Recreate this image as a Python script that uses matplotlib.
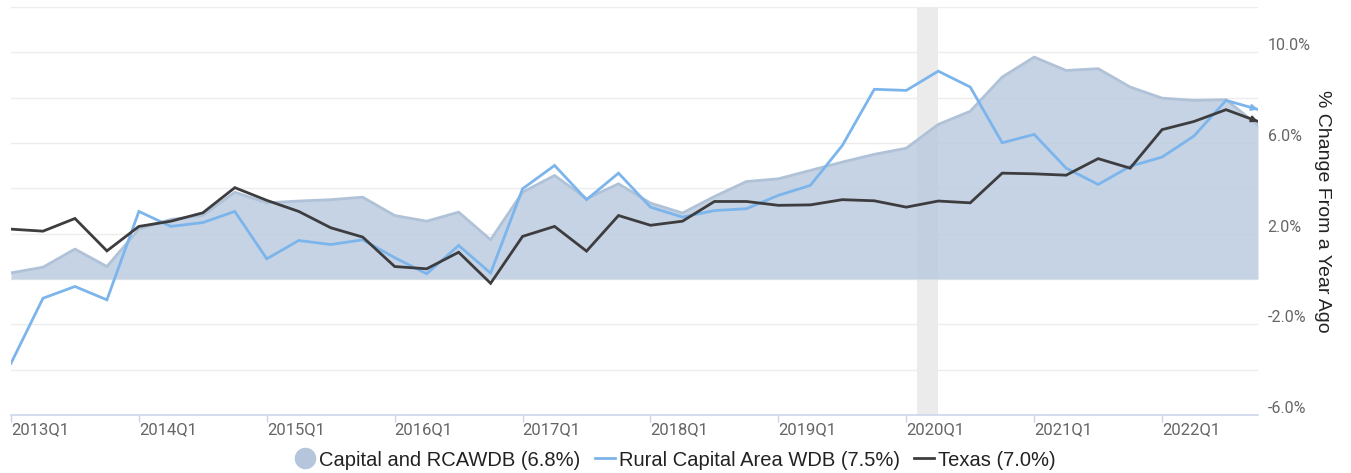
import matplotlib
matplotlib.use('Agg')
import matplotlib.pyplot as plt
from matplotlib.lines import Line2D
from matplotlib.transforms import ScaledTranslation

plt.rcParams['font.family'] = ['Roboto', 'DejaVu Sans']

# ---- data ----
years = [2013, 2014, 2015, 2016, 2017, 2018, 2019, 2020, 2021, 2022]
quarters = [f"{y}Q{q}" for y in years for q in (1, 2, 3, 4)]

capital = [0.27, 0.52, 1.32, 0.55, 2.20, 2.63, 2.80, 3.83, 3.36, 3.44,
           3.50, 3.61, 2.80, 2.55, 2.95, 1.73, 3.83, 4.57, 3.54, 4.20,
           3.35, 2.91, 3.64, 4.30, 4.42, 4.79, 5.16, 5.50, 5.77, 6.82,
           7.40, 8.91, 9.79, 9.20, 9.28, 8.47, 7.98, 7.88, 7.91, 6.78]
rural = [-3.72, -0.85, -0.33, -0.92, 2.98, 2.32, 2.49, 2.98, 0.89, 1.70,
         1.52, 1.73, 0.94, 0.23, 1.48, 0.26, 3.98, 5.01, 3.50, 4.67,
         3.17, 2.73, 3.02, 3.10, 3.69, 4.13, 5.89, 8.37, 8.32, 9.17,
         8.47, 6.01, 6.38, 4.89, 4.17, 4.97, 5.38, 6.31, 7.88, 7.48]
texas = [2.20, 2.11, 2.67, 1.24, 2.32, 2.55, 2.92, 4.03, 3.47, 2.98,
         2.26, 1.85, 0.55, 0.45, 1.18, -0.19, 1.88, 2.32, 1.23, 2.80,
         2.37, 2.55, 3.42, 3.42, 3.25, 3.27, 3.50, 3.45, 3.17, 3.44,
         3.36, 4.67, 4.64, 4.58, 5.31, 4.89, 6.59, 6.95, 7.47, 6.95]

series_names = ["Capital and RCAWDB (6.8%)", "Rural Capital Area WDB (7.5%)", "Texas (7.0%)"]
recession = (2020 + 1 / 12, 2020 + 3 / 12)
ytick_major = [-6, -2, 2, 6, 10]
ytick_grid = [-4, -2, 0, 2, 4, 6, 8, 10, 12]

# x positions from quarter labels
x = [int(q[:4]) + (int(q[-1]) - 1) / 4 for q in quarters]

fill_col = '#b8c9de'
edge_col = '#b0c2d8'
rural_col = '#7cb5ec'
texas_col = '#3d3d3f'

W, H = 1351, 473
fig = plt.figure(figsize=(W / 100, H / 100), dpi=100)
ax = fig.add_axes([11 / W, 58 / H, 1247 / W, 408 / H])

ax.set_xlim(x[0], x[-1])
ax.set_ylim(-6, 12)

# gridlines
for g in ytick_grid:
    ax.axhline(g, color='#ececec', lw=1, zorder=0)

# recession
ax.axvspan(recession[0], recession[1], color='#ebebeb', lw=0, zorder=0.5)

# area
ax.fill_between(x, 0, capital, color=fill_col, alpha=0.8, lw=0, zorder=1)
ax.plot(x, capital, color=edge_col, lw=2, zorder=1.5)

# lines
ax.plot(x, rural, color=rural_col, lw=2, zorder=3, solid_joinstyle='miter')
ax.plot(x, texas, color=texas_col, lw=2, zorder=4, solid_joinstyle='miter')

# arrow heads at end of lines
for ys, col, z in ((rural, rural_col, 3), (texas, texas_col, 4)):
    x0 = x[-2] + 0.9 * (x[-1] - x[-2])
    y0 = ys[-2] + 0.9 * (ys[-1] - ys[-2])
    ax.annotate('', xy=(x[-1], ys[-1]), xytext=(x0, y0),
                arrowprops=dict(arrowstyle='-|>', color=col, lw=1.5,
                                mutation_scale=9, shrinkA=0, shrinkB=0),
                zorder=z)

# spines
for s in ('top', 'left', 'right'):
    ax.spines[s].set_visible(False)
ax.spines['bottom'].set_color('#ccd6eb')
ax.spines['bottom'].set_linewidth(1.2)
ax.spines['bottom'].set_zorder(5)

# x ticks
ax.set_xticks([float(y) for y in years])
ax.set_xticklabels([f"{y}Q1" for y in years])
ax.tick_params(axis='x', length=5, width=1, color='#ccd6eb', pad=0,
               labelsize=12, labelcolor='#666666')
for lab in ax.get_xticklabels():
    lab.set_ha('left')

# y ticks on right
ax.yaxis.tick_right()
ax.set_yticks(ytick_major)
ax.set_yticklabels([f"{v:.1f}%" for v in ytick_major])
ax.tick_params(axis='y', length=0, pad=7, labelsize=11.5, labelcolor='#666666')
off = ScaledTranslation(0, -1 / 100, fig.dpi_scale_trans)
for lab in ax.get_yticklabels():
    lab.set_va('bottom')
    lab.set_transform(lab.get_transform() + off)

ax.text((1322 - 11) / 1247, 0.5, "% Change From a Year Ago", transform=ax.transAxes,
        rotation=270, ha='center', va='center', fontsize=14, color='#222222',
        family=['Liberation Sans', 'DejaVu Sans'])

# legend
handles = [
    Line2D([], [], marker='o', ls='none', markersize=14.5, markerfacecolor='#b4c5dc',
           markeredgecolor='#b4c5dc'),
    Line2D([], [], color=rural_col, lw=2),
    Line2D([], [], color=texas_col, lw=2),
]
leg = fig.legend(handles, series_names, loc='center', bbox_to_anchor=(0.5, 13 / H),
                 ncol=3, frameon=False, prop={'family': ['Liberation Sans', 'DejaVu Sans'], 'size': 14.5},
                 handlelength=1.0, handletextpad=0.2, columnspacing=0.7, borderaxespad=0)
for t in leg.get_texts():
    t.set_color('#222222')

fig.savefig('out.png', dpi=100)
